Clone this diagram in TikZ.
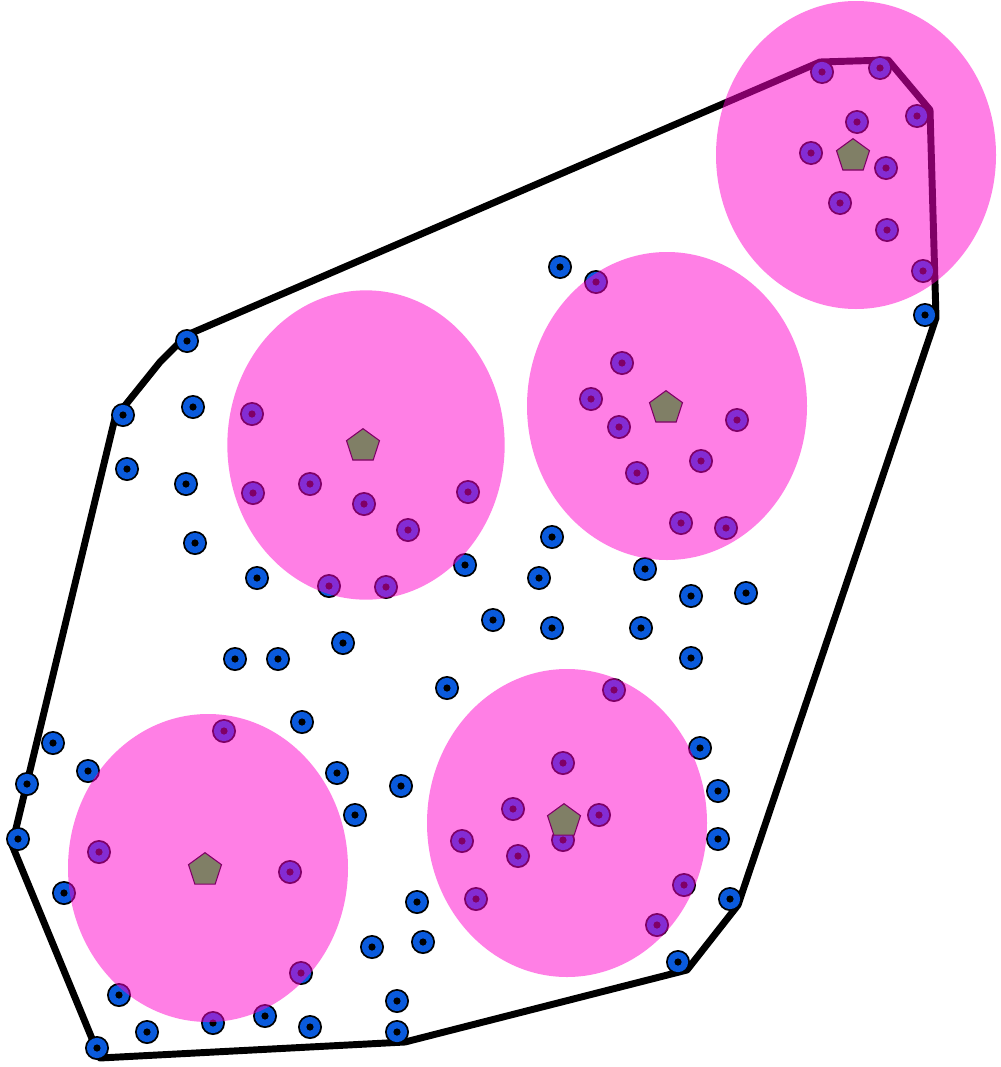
\documentclass[tikz,border=0pt]{standalone}
\usetikzlibrary{shapes.geometric}
\definecolor{dotblue}{HTML}{0A5ADC}
\definecolor{clusterpink}{HTML}{FF00CC}
\definecolor{hubgreen}{HTML}{00FF00}

\begin{document}
\begin{tikzpicture}[
    x=0.75pt, y=-0.75pt,
    hull/.style={draw=black, line width=5.2pt, line join=round},
    hub/.style={regular polygon, regular polygon sides=5, draw=black,
      fill=hubgreen, line width=0.8pt, minimum size=26pt, inner sep=0pt},
    cluster/.style={fill=clusterpink, fill opacity=0.5},
  ]

  % ---------- Canvas ------------------------------------------------------
  \useasboundingbox (0,0) rectangle (1000,1067);
  \fill[white] (0,0) rectangle (1000,1067);

  % ---------- Convex hull --------------------------------------------------
  \draw[hull] (820,62) -- (888,60) -- (930,110) -- (936,318)
    -- (738,905) -- (687,970) -- (405,1042) -- (100,1058)
    -- (12,845) -- (115,418) -- (160,362) -- (187,335) -- cycle;

  % ---------- Sample points (outside and inside the clusters) -------------
  \foreach \px/\py in {
      187/341, 123/415, 193/407, 127/469, 186/484, 195/543, 257/578,
      235/659, 278/659, 343/643, 465/565, 493/620, 560/267, 552/537,
      539/578, 645/569, 691/596, 746/593, 552/628, 641/628, 691/658,
      925/315, 447/688, 53/743, 27/784, 18/839, 88/771, 64/893,
      119/995, 147/1032, 97/1048, 302/722, 337/773, 355/815, 401/786,
      417/902, 423/942, 372/947, 397/1001, 397/1032, 310/1027, 265/1016,
      700/748, 718/791, 718/839, 730/899, 678/962,
      % top-right cluster
      822/72, 880/68, 917/116, 857/122, 811/153, 886/168, 840/203,
      887/230, 923/271,
      % upper-middle cluster
      596/282, 622/363, 591/399, 619/427, 737/420, 701/461, 637/473,
      681/523, 726/528,
      % upper-left cluster
      252/414, 253/493, 310/484, 364/504, 408/530, 468/492, 329/586,
      386/587,
      % lower-left cluster
      224/731, 99/852, 290/872, 301/973, 213/1023,
      % lower-middle cluster
      614/690, 563/763, 513/809, 599/815, 563/840, 462/841, 518/856,
      476/899, 684/885, 657/925} {
    \fill[black] (\px,\py) circle (9pt);
    \fill[dotblue] (\px,\py) circle (7.6pt);
    \fill[black] (\px,\py) circle (2.7pt);
  }

  % ---------- Cluster centres ----------------------------------------------
  \node[hub] (hubTR) at (853,156) {};
  \node[hub] (hubUM) at (666,408) {};
  \node[hub] (hubUL) at (363,446) {};
  \node[hub] (hubLL) at (205,870) {};
  \node[hub] (hubLM) at (564,821) {};

  % ---------- Cluster regions (translucent, on top) ------------------------
  \fill[cluster] (856,155) ellipse [x radius=105pt, y radius=115.5pt];
  \fill[cluster] (667,406) ellipse [x radius=105pt, y radius=115.5pt];
  \fill[cluster] (366,445) ellipse [x radius=104pt, y radius=116pt];
  \fill[cluster] (208,868) ellipse [x radius=105pt, y radius=115.5pt];
  \fill[cluster] (567,823) ellipse [x radius=105pt, y radius=115.5pt];

\end{tikzpicture}
\end{document}
